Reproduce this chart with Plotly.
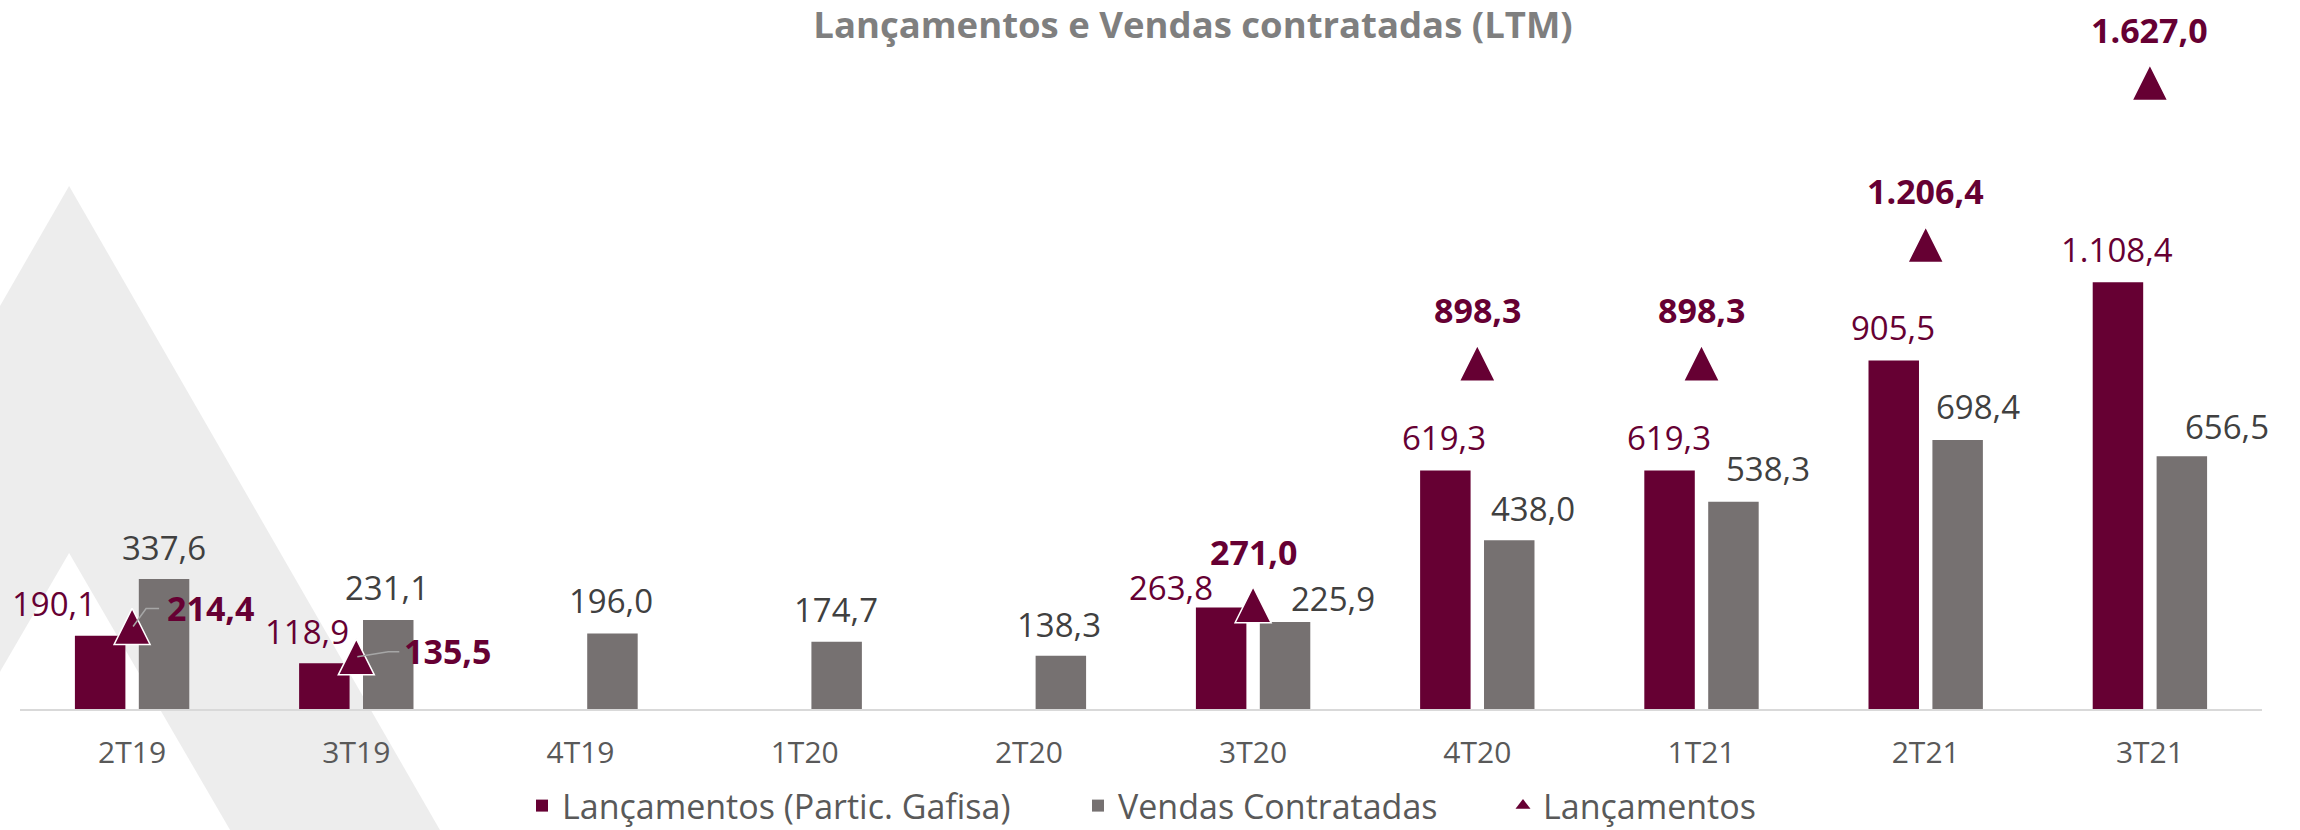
import plotly.graph_objects as go

# ---------------- data ----------------
categories = ["2T19", "3T19", "4T19", "1T20", "2T20", "3T20", "4T20", "1T21", "2T21", "3T21"]
lanc_gafisa = [190.1, 118.9, None, None, None, 263.8, 619.3, 619.3, 905.5, 1108.4]
vendas = [337.6, 231.1, 196.0, 174.7, 138.3, 225.9, 438.0, 538.3, 698.4, 656.5]
lanc_total = [214.4, 135.5, None, None, None, 271.0, 898.3, 898.3, 1206.4, 1627.0]

series_names = ["Lançamentos (Partic. Gafisa)", "Vendas Contratadas", "Lançamentos"]
title_text = "Lançamentos e Vendas contratadas (LTM)"

# ---------------- label placement (pixel offsets) ----------------
gafisa_dx = [-78, -49, 0, 0, 0, -82, -33, -33, -33, -33]
gafisa_dy = [32, 32, 0, 0, 0, 20, 33, 33, 33, 33]
vendas_dx = [32, 31, 30, 31, 30, 80, 56, 66, 52, 77]
vendas_dy = [32, 33, 33, 32, 31, 24, 32, 33, 34, 30]
total_dx = [78, 91, 0, 0, 0, 0, 0, 0, 0, 0]
total_dy = [18, 6, 0, 0, 0, 53, 53, 53, 54, 53]
legend_text_x = [562, 1118, 1543]   # left edge of each legend text, px

# ---------------- styles ----------------
MAROON = "#660033"
GRAY_BAR = "#767171"
LABEL_GRAY = "#404040"
TICK_GRAY = "#595959"
TITLE_GRAY = "#7f7f7f"
BG_TRI = "#ededed"
FONT = "Open Sans"

W, H = 2300, 830
ML, MR, MT, MB = 20, 38, 16, 121
PW, PH = W - ML - MR, H - MT - MB


def fmt(v):
    s = f"{v:,.1f}"
    return s.replace(",", "X").replace(".", ",").replace("X", ".")


def px2paper(x, y):
    return (x - ML) / PW, (H - MB - y) / PH


fig = go.Figure()
fig.add_trace(go.Bar(x=categories, y=lanc_gafisa, name=series_names[0], legend="legend",
                     marker=dict(color=MAROON, line=dict(width=0))))
fig.add_trace(go.Bar(x=categories, y=vendas, name=series_names[1], legend="legend2",
                     marker=dict(color=GRAY_BAR, line=dict(width=0))))
fig.add_trace(go.Scatter(x=categories, y=lanc_total, name=series_names[2], mode="markers",
                         showlegend=False,
                         marker=dict(symbol="arrow-down", angle=180, size=36, standoff=18,
                                     color=MAROON, line=dict(color="white", width=1.5))))
# legend entry for the triangle series (no mark drawn)
fig.add_trace(go.Scatter(x=[None], y=[None], name=series_names[2], mode="markers",
                         legend="legend3", showlegend=True,
                         marker=dict(symbol="triangle-up", size=13, color=MAROON)))

ann = []
for i, c in enumerate(categories):
    if lanc_gafisa[i] is not None:
        ann.append(dict(x=c, y=lanc_gafisa[i], text=fmt(lanc_gafisa[i]), showarrow=False,
                        xshift=gafisa_dx[i], yshift=gafisa_dy[i], yanchor="middle",
                        font=dict(family=FONT, size=33, color=MAROON)))
    if vendas[i] is not None:
        ann.append(dict(x=c, y=vendas[i], text=fmt(vendas[i]), showarrow=False,
                        xshift=vendas_dx[i], yshift=vendas_dy[i], yanchor="middle",
                        font=dict(family=FONT, size=33, color=LABEL_GRAY)))
    if lanc_total[i] is not None:
        ann.append(dict(x=c, y=lanc_total[i], text="<b>" + fmt(lanc_total[i]) + "</b>",
                        showarrow=False, xshift=total_dx[i], yshift=total_dy[i],
                        yanchor="middle",
                        font=dict(family=FONT, size=34, color=MAROON)))

# background triangles (decorative)
def tri(pts):
    p = [px2paper(x, y) for x, y in pts]
    return "M" + " L".join(f"{a:.4f},{b:.4f}" for a, b in p) + " Z"

shapes = [
    dict(type="path", xref="paper", yref="paper", layer="below",
         path=tri([(69, 186), (440, 830), (-302, 830)]),
         fillcolor=BG_TRI, line=dict(width=0)),
    dict(type="path", xref="paper", yref="paper", layer="below",
         path=tri([(69, 553), (230, 830), (-92, 830)]),
         fillcolor="white", line=dict(width=0)),
]
# leader lines for the first two triangle labels
leaders = {0: "M1,0 L14,18 L27,18", 1: "M1,0 L32,5 L43,5"}
for i, p in leaders.items():
    shapes.append(dict(type="path", xref="x", yref="y", xsizemode="pixel", ysizemode="pixel",
                       xanchor=i, yanchor=lanc_total[i], path=p, layer="above",
                       line=dict(color="#a6a6a6", width=1.5)))

legend_common = dict(orientation="h", xref="container", yref="container",
                     xanchor="left", y=1 - 806 / H, yanchor="middle",
                     font=dict(family=FONT, size=34, color=TICK_GRAY),
                     bgcolor="rgba(0,0,0,0)", borderwidth=0)

fig.update_layout(
    width=W, height=H,
    margin=dict(l=ML, r=MR, t=MT, b=MB, autoexpand=False),
    paper_bgcolor="white", plot_bgcolor="rgba(0,0,0,0)",
    barmode="group", bargap=0.43, bargroupgap=0.21,
    title=dict(text="<b>" + title_text + "</b>", x=1193 / W, xref="container", xanchor="center",
               y=1 - 25 / H, yref="container", yanchor="middle",
               font=dict(family=FONT, size=36.5, color=TITLE_GRAY)),
    xaxis=dict(type="category", range=[-0.5, 9.5], showline=True, linecolor="#d9d9d9",
               linewidth=2, showgrid=False, zeroline=False, ticks="",
               ticklabelstandoff=16,
               tickfont=dict(family=FONT, size=30, color=TICK_GRAY)),
    yaxis=dict(range=[0, 1800], visible=False, showgrid=False, zeroline=False),
    legend=dict(legend_common, x=(legend_text_x[0] - 40) / W),
    legend2=dict(legend_common, x=(legend_text_x[1] - 40) / W),
    legend3=dict(legend_common, x=(legend_text_x[2] - 40) / W),
    annotations=ann,
    shapes=shapes,
    showlegend=True,
)

fig.write_html("out.html", config={"displayModeBar": False},
               post_script="document.body.style.margin='0';document.body.style.overflow='hidden';")
